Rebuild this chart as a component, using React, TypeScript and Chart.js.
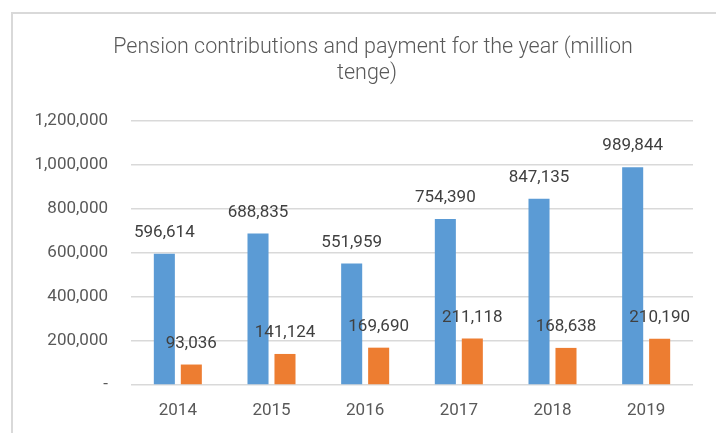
import React, { useEffect, useRef } from "react";
import { Chart, registerables } from "chart.js";

Chart.register(...registerables);

const years = ["2014", "2015", "2016", "2017", "2018", "2019"];
const contributions = [596614, 688835, 551959, 754390, 847135, 989844];
const payments = [93036, 141124, 169690, 211118, 168638, 210190];
const titleLines = ["Pension contributions and payment for the year (million", "tenge)"];

const fmt = (v: number) => (v === 0 ? "-" : v.toLocaleString("en-US"));

export default function App() {
  const ref = useRef<HTMLCanvasElement | null>(null);

  useEffect(() => {
    document.body.style.margin = "0";
    const canvas = ref.current!;
    const framePlugin = {
      id: "frame",
      beforeDraw(chart: any) {
        const ctx = chart.ctx;
        ctx.save();
        ctx.fillStyle = "#ffffff";
        ctx.fillRect(0, 0, chart.width, chart.height);
        ctx.strokeStyle = "#d9d9d9";
        ctx.lineWidth = 2;
        ctx.beginPath();
        ctx.moveTo(12, chart.height);
        ctx.lineTo(12, 13);
        ctx.lineTo(chart.width, 13);
        ctx.stroke();
        ctx.fillStyle = "#595959";
        ctx.font = "300 21.5px Roboto";
        ctx.textAlign = "center";
        ctx.textBaseline = "middle";
        ctx.fillText(titleLines[0], 373, 48);
        ctx.fillText(titleLines[1], 367, 74);
        ctx.restore();
      },
    };
    const labelPlugin = {
      id: "valueLabels",
      afterDatasetsDraw(chart: any) {
        const ctx = chart.ctx;
        ctx.save();
        ctx.fillStyle = "#404040";
        ctx.font = "17px Roboto";
        ctx.textAlign = "center";
        ctx.textBaseline = "middle";
        chart.data.datasets.forEach((ds: any, i: number) => {
          const meta = chart.getDatasetMeta(i);
          meta.data.forEach((el: any, j: number) => {
            ctx.fillText(fmt(ds.data[j]), el.x, el.y - 21);
          });
        });
        ctx.restore();
      },
    };
    const chart = new Chart(canvas, {
      type: "bar",
      data: {
        labels: years,
        datasets: [
          {
            label: "Contributions",
            data: contributions,
            backgroundColor: "#5B9BD5",
            categoryPercentage: 0.576,
            barPercentage: 0.78,
          },
          {
            label: "Payments",
            data: payments,
            backgroundColor: "#ED7D31",
            categoryPercentage: 0.576,
            barPercentage: 0.78,
          },
        ],
      },
      options: {
        responsive: false,
        animation: false,
        layout: { padding: { left: 12, top: 121, right: 23, bottom: 0 } },
        plugins: {
          legend: { display: false },
          title: { display: false },
          tooltip: { enabled: false },
        },
        scales: {
          x: {
            grid: { display: false, drawTicks: false },
            border: { display: false },
            ticks: {
              color: "#595959",
              font: { family: "Roboto", size: 17 },
              padding: 16,
            },
            afterFit: (s: any) => {
              s.height = 48;
            },
          },
          y: {
            min: 0,
            max: 1200000,
            grid: { color: "#d9d9d9", lineWidth: 1.5, drawTicks: false },
            border: { display: false },
            ticks: {
              stepSize: 200000,
              color: "#595959",
              font: { family: "Roboto", size: 17 },
              padding: 23,
              callback: (v: any) => fmt(Number(v)),
            },
            afterFit: (s: any) => {
              s.width = 119;
            },
          },
        },
      },
      plugins: [framePlugin, labelPlugin],
    });
    return () => chart.destroy();
  }, []);

  return (
    <div style={{ width: 716, height: 433 }}>
      <canvas ref={ref} width={716} height={433} style={{ display: "block" }} />
    </div>
  );
}
